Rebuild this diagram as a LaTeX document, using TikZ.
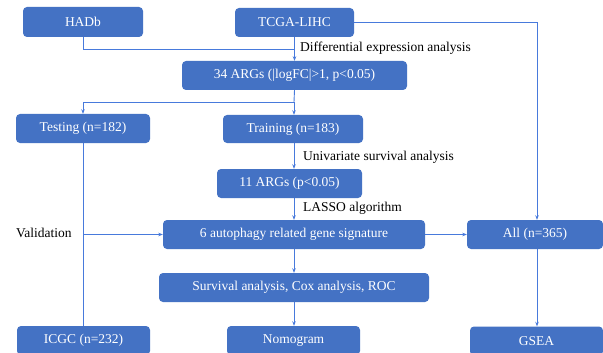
\documentclass[tikz,border=0pt]{standalone}
\usepackage{fontspec}
\setmainfont{Liberation Serif}
\usetikzlibrary{arrows.meta}
\definecolor{boxblue}{RGB}{68,114,196}
\definecolor{lineblue}{RGB}{72,122,220}
\tikzset{
  box/.style={draw=none, fill=boxblue, rounded corners=4pt, text=white, inner sep=0pt,
    font=\fontsize{13.5}{16}\selectfont, minimum height=29pt},
  conn/.style={draw=lineblue, line width=0.9pt},
  arr/.style={conn, -{Stealth[length=4.5pt,width=3.5pt]}},
  lbl/.style={anchor=west, inner sep=0pt, font=\fontsize{13.5}{16}\selectfont, text=black}
}
\begin{document}
\begin{tikzpicture}[x=1pt,y=-1pt]
\useasboundingbox (0,0) rectangle (603,353);
\clip (0,0) rectangle (603,353);
\fill[white] (0,0) rectangle (603,353);
% boxes
\node[box, minimum width=120pt, minimum height=30pt] (hadb) at (83,22) {HADb};
\node[box, minimum width=119pt] (tcga) at (294.5,22.5) {TCGA-LIHC};
\node[box, minimum width=225pt] (args34) at (294.5,75.5) {34 ARGs (|logFC|>1, p<0.05)};
\node[box, minimum width=134pt] (testing) at (83,128.5) {Testing (n=182)};
\node[box, minimum width=140pt, minimum height=28pt] (training) at (293,129) {Training (n=183)};
\node[box, minimum width=145pt] (args11) at (289.5,183.5) {11 ARGs (p<0.05)};
\node[box, minimum width=262pt] (sig) at (294,234.5) {6 autophagy related gene signature};
\node[box, minimum width=136pt] (all) at (535,234.5) {All (n=365)};
\node[box, minimum width=270pt] (surv) at (294,287.5) {Survival analysis, Cox analysis, ROC};
\node[box, minimum width=133pt] (icgc) at (83.5,340.5) {ICGC (n=232)};
\node[box, minimum width=133pt] (nomo) at (293.5,340.5) {Nomogram};
\node[box, minimum width=133pt] (gsea) at (536.5,341) {GSEA};
% labels
\node[lbl] (l1) at (300,48) {Differential expression analysis};
\node[lbl] (l2) at (303,157) {Univariate survival analysis};
\node[lbl] (l3) at (303,208) {LASSO algorithm};
\node[lbl] (l4) at (16,233) {Validation};
% coordinates
\coordinate (j1) at (294,49);
\coordinate (j2) at (294,102);
\coordinate (j3) at (83,234.5);
\coordinate (jr) at (537,0);
% connectors
\draw[conn] (hadb.south) |- (j1);
\draw[arr] (tcga.south) -- (args34.north);
\draw[arr] (tcga.east) -| (jr |- all.north);
\draw[conn] (args34.south) -- (j2);
\draw[arr] (j2) -| (testing.north);
\draw[arr] (j2) -- (j2 |- training.north);
\draw[arr] (j2 |- training.south) -- (j2 |- args11.north);
\draw[arr] (j2 |- args11.south) -- (j2 |- sig.north);
\draw[conn] (j3 |- testing.south) -- (j3 |- icgc.north);
\draw[arr] (j3) -- (j3 -| sig.west);
\draw[arr] (sig.east) -- (all.west);
\draw[arr] (sig.south) -- (surv.north);
\draw[arr] (j2 |- surv.south) -- (j2 |- nomo.north);
\draw[arr] (jr |- all.south) -- (jr |- gsea.north);
\end{tikzpicture}
\end{document}
